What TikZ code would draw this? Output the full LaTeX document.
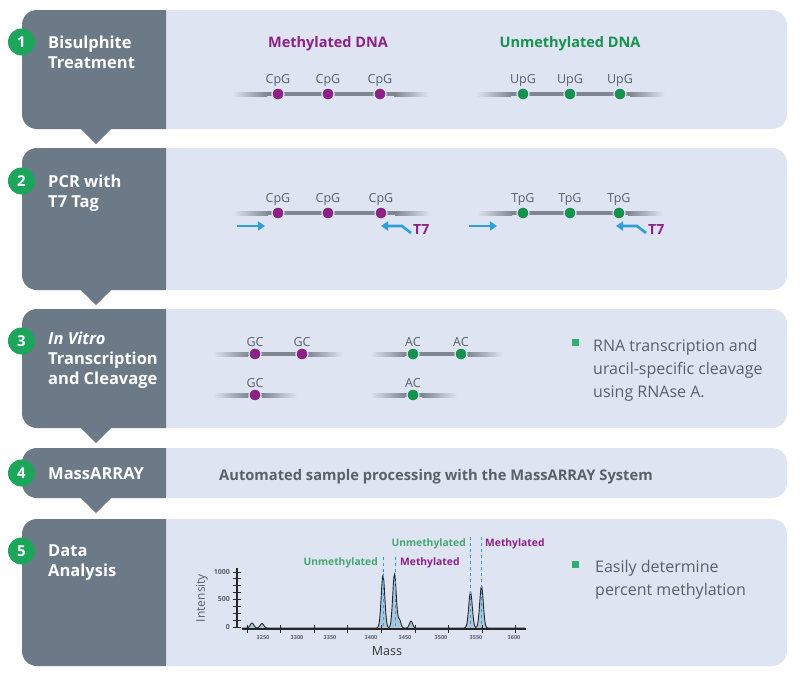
\documentclass[tikz,border=0pt]{standalone}
\usepackage{fontspec}
\setmainfont{Open Sans}
\usepackage{tikz}
\usetikzlibrary{arrows.meta, positioning, calc}

\definecolor{slate}{HTML}{6C7A87}
\definecolor{pale}{HTML}{DFE4F2}
\definecolor{stepgreen}{HTML}{1BA65B}
\definecolor{methyl}{HTML}{8C2286}
\definecolor{unmethyl}{HTML}{17924F}
\definecolor{primerblue}{HTML}{2E9FDA}
\definecolor{bodytext}{HTML}{5A5F68}
\definecolor{strandgray}{HTML}{7E8791}
\definecolor{peakfill}{HTML}{A9C6DA}

% x1, x2, y of a strand with faded ends
\newcommand{\dnastrand}[3]{%
  \shade[left color=pale, right color=strandgray] (#1,#3-2) rectangle (#1+35,#3+2);
  \fill[strandgray] (#1+35,#3-2) rectangle (#2-35,#3+2);
  \shade[left color=strandgray, right color=pale] (#2-35,#3-2) rectangle (#2,#3+2);
}

\begin{document}
\begin{tikzpicture}[x=1pt, y=-1pt,
  declare function={pk(\m,\c,\w)=exp(-min(((\m-\c)/\w)^2,40));
    trace(\m)=53*pk(\m,383,2.5)+54*pk(\m,394.5,2.5)+36*pk(\m,470.5,2.5)+42*pk(\m,481.5,2.5)
      +8*pk(\m,399.5,2)+7*pk(\m,411,2.2)+5*pk(\m,252,2.5)+4.5*pk(\m,262,2.5);},
  stepnum/.style={circle, fill=stepgreen, minimum size=27pt, inner sep=0, text=white,
    font=\fontsize{15}{18}\selectfont\bfseries},
  steptitle/.style={anchor=base west, align=left, inner sep=0, text=white,
    font=\fontsize{16.5}{20}\selectfont\bfseries},
  mdot/.style={circle, fill=methyl, draw=pale, line width=1.2pt, minimum size=12pt, inner sep=0},
  udot/.style={mdot, fill=unmethyl},
  site/.style={inner sep=0, text=bodytext, font=\fontsize{12.5}{14}\selectfont},
  dnatitle/.style={inner sep=0, font=\fontsize{14.5}{17}\selectfont\bfseries},
  primer/.style={draw=primerblue, line width=2.6pt, -{Triangle[length=7pt, width=9pt]}},
  tseven/.style={anchor=west, inner sep=0, text=methyl, font=\fontsize{14}{16}\selectfont\bfseries},
  bullet/.style={fill=stepgreen!90, minimum size=7pt, inner sep=0},
  bullettext/.style={anchor=base west, align=left, inner sep=0, text=bodytext,
    font=\fontsize{16}{23}\selectfont},
  chartlab/.style={inner sep=0, font=\fontsize{10.3}{12}\selectfont\bfseries},
  ticklab/.style={inner sep=0, text=bodytext, font=\fontsize{5.5}{7}\selectfont\bfseries},
  marker/.style={draw=primerblue, dashed, line width=0.8pt}]

\useasboundingbox (0,0) rectangle (804,680);

% panels
\foreach \top/\bot in {10/129, 148/290, 309/428, 448/498, 519/666} {
  \fill[pale, rounded corners=15pt] (22,\top) rectangle (787,\bot);
  \fill[slate, rounded corners=15pt] (166,\top) -- (22,\top) -- (22,\bot) -- (166,\bot);
}
\foreach \bot in {128, 289, 427, 497}
  \fill[slate] (80,\bot) -- (96,\bot+16) -- (112,\bot) -- cycle;

% step numbers and titles (base = last line)
\node[stepnum] (n1) at (21.5,42) {1};
\node[stepnum] (n2) at (21.5,181) {2};
\node[stepnum] (n3) at (21.5,341) {3};
\node[stepnum] (n4) at (21.5,473) {4};
\node[stepnum] (n5) at (21.5,551) {5};
\node[steptitle] (t1) at (48,68) {Bisulphite\\Treatment};
\node[steptitle] (t2) at (48,207) {PCR with\\T7 Tag};
\node[steptitle] (t3) at (48,384) {\itshape In Vitro\\Transcription\\and Cleavage};
\node[steptitle] (t4) at (48,479) {MassARRAY};
\node[steptitle] (t5) at (48,576) {Data\\Analysis};

% step 1
\node[dnatitle, text=methyl] (mtitle) at (328,44) {Methylated DNA};
\node[dnatitle, text=unmethyl] (utitle) at (570,44) {Unmethylated DNA};
\dnastrand{232}{429}{94}
\dnastrand{476}{665}{94}
\foreach \px [count=\i] in {278, 328, 380} {
  \node[mdot] (a\i) at (\px,94) {};
  \node[site, above=0.5pt of a\i] (as\i) {CpG};
}
\foreach \px [count=\i] in {523, 570, 620} {
  \node[udot] (b\i) at (\px,94) {};
  \node[site, above=0.5pt of b\i] (bs\i) {UpG};
}

% step 2
\dnastrand{233}{430}{213}
\dnastrand{477}{663}{213}
\foreach \px [count=\i] in {278, 328, 381} {
  \node[mdot] (c\i) at (\px,213) {};
  \node[site, above=0.5pt of c\i] (cs\i) {CpG};
}
\foreach \px [count=\i] in {523, 570, 619} {
  \node[udot] (d\i) at (\px,213) {};
  \node[site, above=0.5pt of d\i] (ds\i) {TpG};
}
\coordinate (fwd1s) at (237,226);
\coordinate (fwd1e) at (265,226);
\coordinate (fwd2s) at (469,226);
\coordinate (fwd2e) at (497,226);
\draw[primer] (fwd1s) -- (fwd1e);
\draw[primer] (fwd2s) -- (fwd2e);
\coordinate (rev1s) at (411,233);
\coordinate (rev1b) at (402,226);
\coordinate (rev1e) at (381,226);
\coordinate (rev2s) at (646,233);
\coordinate (rev2b) at (637,226);
\coordinate (rev2e) at (616,226);
\draw[primer] (rev1s) -- (rev1b) -- (rev1e);
\draw[primer] (rev2s) -- (rev2b) -- (rev2e);
\node[tseven] (tag1) at (413,230) {T7};
\node[tseven] (tag2) at (648,230) {T7};

% step 3
\dnastrand{213}{343}{354}
\dnastrand{370}{503}{354}
\dnastrand{213}{297}{395}
\dnastrand{370}{457}{395}
\foreach \px/\py [count=\i] in {255/354, 302/354, 255/395} {
  \node[mdot] (e\i) at (\px,\py) {};
  \node[site, above=0.5pt of e\i] (es\i) {GC};
}
\foreach \px/\py [count=\i] in {413/354, 461/354, 413/395} {
  \node[udot] (f\i) at (\px,\py) {};
  \node[site, above=0.5pt of f\i] (fs\i) {AC};
}
\node[bullet] (bul1) at (575.5,342.5) {};
\node[bullettext] (bul1t) at (593,397) {RNA transcription and\\uracil-specific cleavage\\using RNAse A.};

% step 4
\node[anchor=base west, inner sep=0, text=bodytext, font=\fontsize{14.7}{17}\selectfont\bfseries]
  (auto) at (219,480) {Automated sample processing with the MassARRAY System};

% step 5: spectrum
\fill[peakfill] plot[domain=242:525, samples=420] (\x, {628-trace(\x)}) -- (525,628) -- (242,628) -- cycle;
\draw[black!85, line width=0.9pt] plot[domain=242:525, samples=420] (\x, {628-trace(\x)});
\draw[black!85, line width=1.1pt] (237,568) -- (237,628);
\draw[black!85, line width=1.1pt] (242,629) -- (526,629);
\foreach \v in {0,125,...,1000}
  \draw[black!85, line width=0.9pt] (233,{627-0.055*\v}) -- (241,{627-0.055*\v});
\foreach \k in {0,...,8}
  \draw[black!85, line width=0.9pt] ({247+33.6*\k},625) -- ({247+33.6*\k},633);
\foreach \lab/\px in {3250/263, 3300/297, 3350/330, 3400/371, 3450/405, 3500/441, 3550/476, 3600/514}
  \node[ticklab] (xl\lab) at (\px,638) {\lab};
\foreach \lab/\py in {1000/572, 500/599, 0/627}
  \node[ticklab, anchor=east, font=\fontsize{7}{8}\selectfont\bfseries] (yl\lab) at (230,\py) {\lab};
\node[rotate=90, inner sep=0, text=bodytext, font=\fontsize{12}{14}\selectfont] (ylab) at (202,598) {Intensity};
\node[inner sep=0, text=black!80, font=\fontsize{12.5}{14}\selectfont] (xlab) at (387,651) {Mass};
\draw[marker] (383,557) -- (383,628);
\draw[marker] (395,557) -- (395,628);
\draw[marker] (470.5,537) -- (470.5,628);
\draw[marker] (481.5,537) -- (481.5,628);
\node[chartlab, text=unmethyl!80, anchor=east] (um1) at (378,563) {Unmethylated};
\node[chartlab, text=methyl, anchor=west] (me1) at (400,563) {Methylated};
\node[chartlab, text=unmethyl!80, anchor=east] (um2) at (466,544) {Unmethylated};
\node[chartlab, text=methyl, anchor=west] (me2) at (485,544) {Methylated};

\node[bullet] (bul2) at (575.5,564) {};
\node[bullettext] (bul2t) at (595,595) {Easily determine\\percent methylation};
\end{tikzpicture}
\end{document}
